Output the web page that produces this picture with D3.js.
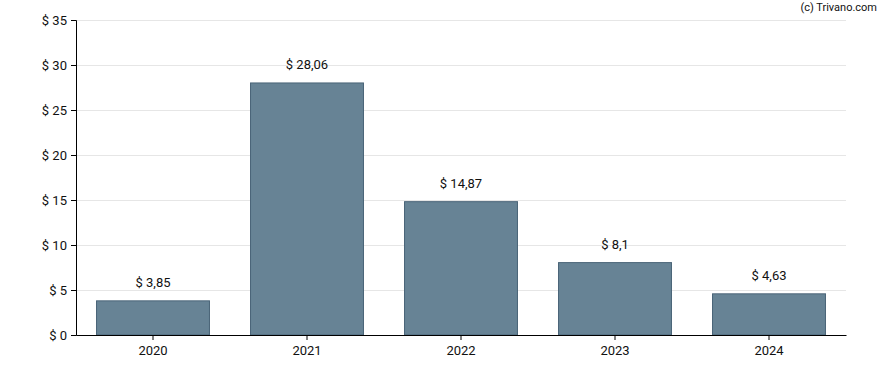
<!DOCTYPE html>
<html><head><meta charset="utf-8">
<script src="https://cdn.jsdelivr.net/npm/d3@7"></script>
<style>body{margin:0;background:#fff}svg{display:block;font-family:Roboto,Arial,sans-serif}</style>
</head><body><svg id="c" width="888" height="370"></svg>
<script>
const categories = ["2020","2021","2022","2023","2024"];
const values = [3.85, 28.06, 14.87, 8.1, 4.63];
const labels = ["$ 3,85","$ 28,06","$ 14,87","$ 8,1","$ 4,63"];
const yTicks = [0,5,10,15,20,25,30,35];

const svg = d3.select("#c");
const m = {l:76, r:42, t:20, b:35};
const W = 888, H = 370;
const x = d3.scaleBand().domain(categories).range([m.l, W-m.r]).paddingInner(0.26).paddingOuter(0.13);
const y = d3.scaleLinear().domain([0,35]).range([H-m.b, m.t]);

svg.append("g").selectAll("line").data(yTicks.filter(d=>d>0)).join("line")
  .attr("x1", m.l).attr("x2", W-m.r).attr("y1", d=>y(d)+0.5).attr("y2", d=>y(d)+0.5)
  .attr("stroke", "#e6e6e6").attr("stroke-width", 1);

svg.append("g").selectAll("rect").data(values).join("rect")
  .attr("x", (d,i)=>x(categories[i])+0.5).attr("width", x.bandwidth()-1)
  .attr("y", d=>y(d)+0.5).attr("height", d=>y(0)-y(d)-0.5)
  .attr("fill", "#678395").attr("stroke", "#4a6478").attr("stroke-width", 1);

svg.append("g").selectAll("text").data(values).join("text")
  .attr("x", (d,i)=>x(categories[i])+x.bandwidth()/2).attr("y", d=>y(d)-13)
  .attr("text-anchor","middle").attr("font-size", 13).attr("fill", "#111")
  .text((d,i)=>labels[i]);

const ya = svg.append("g").attr("transform", `translate(${m.l},0)`)
  .call(d3.axisLeft(y).tickValues(yTicks).tickSize(5).tickPadding(4).tickFormat(d=>"$ "+d));
ya.select(".domain").attr("stroke","#000");
ya.selectAll("text").attr("font-size",13).attr("fill","#111").attr("font-family","Roboto,Arial,sans-serif");

const xa = svg.append("g").attr("transform", `translate(0,${H-m.b})`)
  .call(d3.axisBottom(x).tickSize(5).tickPadding(6).tickSizeOuter(0));
xa.select(".domain").attr("stroke","#000");
xa.selectAll("text").attr("font-size",13).attr("fill","#111").attr("font-family","Roboto,Arial,sans-serif");

svg.append("text").attr("x", 877).attr("y", 11).attr("text-anchor","end")
  .attr("font-size", 11).attr("fill","#111").text("(c) Trivano.com");
</script></body></html>
